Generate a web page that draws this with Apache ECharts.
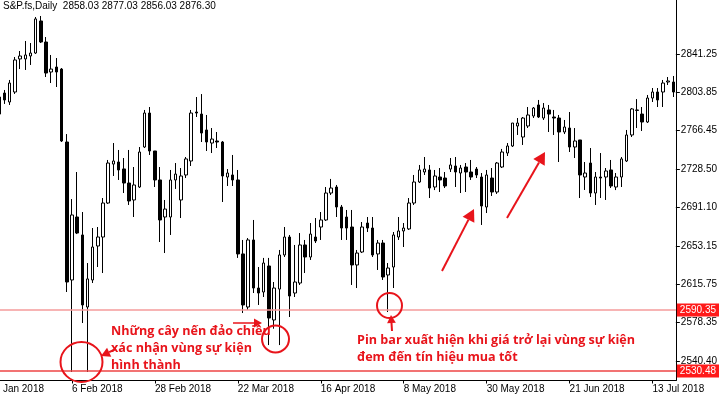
<!DOCTYPE html>
<html><head><meta charset="utf-8">
<script src="https://cdn.jsdelivr.net/npm/echarts@6/dist/echarts.min.js"></script>
<style>html,body{margin:0;padding:0;background:#fff;overflow:hidden;width:720px;height:398px}
#c{position:absolute;left:-14px;top:0;width:734px;height:398px}</style>
</head><body><div id="c"></div>
<script>
// ---- categories (trading days, first two are before the first visible candle) ----
const dates = [
'15 Jan 2018','16 Jan 2018','17 Jan 2018','18 Jan 2018','19 Jan 2018','22 Jan 2018','23 Jan 2018','24 Jan 2018','25 Jan 2018','26 Jan 2018','29 Jan 2018','30 Jan 2018','31 Jan 2018',
'1 Feb 2018','2 Feb 2018','5 Feb 2018','6 Feb 2018','7 Feb 2018','8 Feb 2018','9 Feb 2018','12 Feb 2018','13 Feb 2018','14 Feb 2018','15 Feb 2018','16 Feb 2018','19 Feb 2018','20 Feb 2018','21 Feb 2018','22 Feb 2018','23 Feb 2018','26 Feb 2018','27 Feb 2018','28 Feb 2018',
'1 Mar 2018','2 Mar 2018','5 Mar 2018','6 Mar 2018','7 Mar 2018','8 Mar 2018','9 Mar 2018','12 Mar 2018','13 Mar 2018','14 Mar 2018','15 Mar 2018','16 Mar 2018','19 Mar 2018','20 Mar 2018','21 Mar 2018','22 Mar 2018','23 Mar 2018','26 Mar 2018','27 Mar 2018','28 Mar 2018','29 Mar 2018',
'2 Apr 2018','3 Apr 2018','4 Apr 2018','5 Apr 2018','6 Apr 2018','9 Apr 2018','10 Apr 2018','11 Apr 2018','12 Apr 2018','13 Apr 2018','16 Apr 2018','17 Apr 2018','18 Apr 2018','19 Apr 2018','20 Apr 2018','23 Apr 2018','24 Apr 2018','25 Apr 2018','26 Apr 2018','27 Apr 2018','30 Apr 2018',
'1 May 2018','2 May 2018','3 May 2018','4 May 2018','7 May 2018','8 May 2018','9 May 2018','10 May 2018','11 May 2018','14 May 2018','15 May 2018','16 May 2018','17 May 2018','18 May 2018','21 May 2018','22 May 2018','23 May 2018','24 May 2018','25 May 2018','28 May 2018','29 May 2018','30 May 2018','31 May 2018',
'1 Jun 2018','4 Jun 2018','5 Jun 2018','6 Jun 2018','7 Jun 2018','8 Jun 2018','11 Jun 2018','12 Jun 2018','13 Jun 2018','14 Jun 2018','15 Jun 2018','18 Jun 2018','19 Jun 2018','20 Jun 2018','21 Jun 2018','22 Jun 2018','25 Jun 2018','26 Jun 2018','27 Jun 2018','28 Jun 2018','29 Jun 2018',
'2 Jul 2018','3 Jul 2018','4 Jul 2018','5 Jul 2018','6 Jul 2018','9 Jul 2018','10 Jul 2018','11 Jul 2018','12 Jul 2018','13 Jul 2018','16 Jul 2018','17 Jul 2018','18 Jul 2018','19 Jul 2018'];
const leadIn = 2; // dates before the first drawn candle

// ---- candle values (from 17 Jan 2018) ----
const open = [2782.4,2803.0,2794.2,2804.0,2836.4,2836.4,2839.3,2842.2,2873.6,2853.0,
2823.6,2828.5,2826.5,2755.0,2619.8,2681.5,2663.9,2593.3,2619.8,2653.1,
2661.9,2695.2,2733.4,2735.4,2728.6,2714.8,2698.2,2710.9,2750.1,2783.4,
2746.2,2717.8,2681.5,2681.5,2717.8,2698.2,2722.7,2736.4,2784.4,2782.4,
2766.8,2754.0,2756.0,2755.0,2720.7,2722.7,2717.8,2645.3,2593.3,2659.0,
2611.9,2608.0,2633.5,2580.6,2610.9,2644.3,2661.9,2607.0,2616.8,2654.1,
2642.3,2661.9,2671.7,2678.6,2705.0,2710.9,2691.3,2681.5,2671.7,2634.5,
2647.2,2675.6,2670.7,2645.3,2656.0,2624.7,2632.5,2661.9,2667.8,2669.8,
2695.2,2715.8,2725.6,2727.6,2710.9,2720.7,2719.7,2728.5,2731.5,2724.6,
2730.5,2725.6,2728.5,2720.7,2691.3,2719.7,2706.0,2730.5,2744.2,2751.1,
2770.7,2759.9,2770.7,2780.5,2791.3,2778.5,2786.4,2779.5,2778.5,2764.8,
2768.7,2750.1,2757.0,2720.7,2734.4,2705.0,2720.7,2720.7,2727.6,2710.9,
2720.7,2736.4,2761.9,2786.4,2782.4,2774.6,2798.1,2804.0,2804.0,2813.8,
2813.8];
const close = [2799.1,2796.2,2812.8,2835.4,2839.3,2840.3,2842.2,2875.6,2853.0,2822.6,
2826.5,2823.6,2756.0,2617.8,2683.5,2665.8,2595.3,2620.8,2652.1,2661.9,
2695.2,2734.4,2736.4,2727.6,2714.8,2697.2,2712.9,2745.2,2783.4,2746.2,
2717.8,2678.6,2689.3,2717.8,2723.6,2721.7,2738.4,2783.4,2783.4,2763.8,
2755.0,2757.9,2755.0,2721.7,2724.6,2717.8,2645.3,2595.3,2659.0,2611.9,
2607.0,2636.4,2582.5,2611.9,2644.3,2661.9,2604.1,2617.8,2654.1,2642.3,
2664.8,2658.0,2678.6,2705.0,2709.9,2691.3,2670.7,2670.7,2634.5,2646.2,
2671.7,2670.7,2644.3,2656.0,2622.7,2631.5,2663.9,2667.8,2670.7,2695.2,
2715.8,2727.6,2728.5,2709.9,2721.7,2717.8,2711.9,2732.5,2725.6,2729.5,
2725.6,2720.7,2722.7,2692.3,2722.7,2706.0,2734.4,2745.2,2751.1,2773.6,
2773.6,2778.5,2781.5,2788.3,2779.5,2788.3,2782.4,2778.5,2764.8,2769.7,
2750.1,2756.0,2722.7,2724.6,2705.0,2720.7,2719.7,2726.6,2711.9,2720.7,
2738.4,2761.9,2787.4,2786.0,2774.6,2798.1,2804.0,2796.2,2812.8,2814.8,
2804.0];
const low = [2780.5,2792.3,2791.3,2802.1,2826.5,2825.6,2830.5,2841.3,2852.0,2818.7,
2812.8,2808.9,2755.0,2608.0,2529.6,2664.8,2577.6,2529.6,2616.8,2632.5,
2626.6,2694.3,2721.7,2717.8,2705.0,2693.3,2681.5,2709.9,2749.1,2742.3,
2710.9,2657.0,2646.2,2663.9,2709.0,2680.5,2719.7,2731.5,2779.5,2755.0,
2746.2,2744.2,2749.1,2696.2,2711.9,2711.9,2641.4,2587.4,2590.4,2607.0,
2595.3,2603.1,2556.0,2572.0,2556.0,2642.3,2583.5,2603.1,2614.9,2626.6,
2639.4,2656.0,2659.0,2677.6,2703.1,2681.5,2659.0,2659.0,2614.9,2611.9,
2646.2,2666.8,2642.3,2629.6,2619.8,2588.4,2611.9,2659.0,2652.1,2668.8,
2693.3,2714.8,2722.7,2700.1,2707.9,2706.0,2709.9,2725.6,2710.9,2705.0,
2706.0,2717.8,2719.7,2673.7,2685.4,2702.1,2704.1,2729.5,2741.3,2750.1,
2761.9,2752.1,2768.7,2778.5,2778.5,2776.6,2764.8,2761.9,2735.4,2762.8,
2745.2,2739.3,2700.1,2708.0,2701.1,2693.3,2700.1,2698.2,2709.9,2707.9,
2710.9,2735.4,2759.9,2768.7,2765.8,2773.6,2794.2,2789.3,2789.3,2810.9,
2799.1];
const high = [2801.1,2806.0,2815.8,2838.3,2844.2,2854.0,2852.0,2877.5,2878.5,2857.9,
2840.3,2837.3,2827.5,2762.8,2699.1,2725.6,2686.4,2636.4,2670.7,2671.7,
2700.1,2737.4,2754.0,2747.2,2739.3,2747.2,2730.5,2750.1,2786.4,2789.3,
2746.2,2730.5,2698.2,2727.6,2734.4,2729.5,2740.3,2786.4,2799.1,2802.0,
2781.5,2768.7,2764.8,2756.0,2728.5,2742.3,2727.6,2659.0,2660.9,2678.6,
2632.5,2641.4,2641.4,2617.8,2649.2,2671.7,2663.9,2654.1,2665.8,2659.0,
2675.6,2680.5,2686.4,2710.9,2718.8,2712.9,2693.3,2688.4,2688.4,2649.2,
2676.6,2681.5,2681.5,2659.0,2659.0,2636.4,2666.8,2681.5,2675.6,2700.1,
2722.7,2732.5,2740.3,2732.5,2727.6,2729.5,2725.6,2739.3,2740.3,2732.5,
2734.4,2737.4,2730.5,2724.6,2727.6,2729.5,2735.4,2748.2,2754.0,2773.6,
2778.5,2779.5,2789.3,2789.3,2796.2,2793.2,2791.3,2786.4,2781.5,2776.6,
2784.4,2768.7,2757.0,2735.4,2749.1,2725.6,2744.2,2729.5,2737.4,2724.6,
2740.3,2766.8,2788.3,2797.1,2789.3,2801.1,2807.9,2807.9,2815.8,2818.7,
2819.7];

// ---- axis ticks and levels ----
const priceTicks = [2540.40,2578.35,2615.75,2653.15,2691.10,2728.50,2766.45,2803.85,2841.25];
const eventLevels = [2590.35, 2530.48];
const lastPrice = 2876.30;
const titleText = 'S&P.fs,Daily  2858.03 2877.03 2856.03 2876.30';
const noteLeft = ['Những cây nến đảo chiều', 'xác nhận vùng sự kiện', 'hình thành'];
const noteRight = ['Pin bar xuất hiện khi giá trở lại vùng sự kiện', 'đem đến tín hiệu mua tốt'];

const candles = dates.map((d, i) => i < leadIn ? ['-','-','-','-'] :
  [open[i-leadIn], close[i-leadIn], low[i-leadIn], high[i-leadIn]]);

const OFF = 14; // the chart canvas starts 14px left of the page edge
const RED = '#e8141b';
const chart = echarts.init(document.getElementById('c'), null, {renderer: 'canvas'});
const labelEvery = i => i % 16 === 0;

function arrow(x1, y1, x2, y2, w, head) {
  x1 += OFF; x2 += OFF;
  const a = Math.atan2(y2 - y1, x2 - x1);
  const hl = head, hw = head * 0.55;
  const bx = x2 - hl * Math.cos(a), by = y2 - hl * Math.sin(a);
  const px = -Math.sin(a) * hw, py = Math.cos(a) * hw;
  return [
    {type: 'line', shape: {x1: x1, y1: y1, x2: bx, y2: by}, style: {stroke: RED, lineWidth: w}, z: 100},
    {type: 'polygon', shape: {points: [[x2, y2], [bx + px, by + py], [bx - px, by - py]]}, style: {fill: RED}, z: 100}
  ];
}

const noteFont = 'bold 12.6px "Open Sans"';
const graphics = [].concat(
  [{type: 'ellipse', shape: {cx: 81.5 + OFF, cy: 362, rx: 21, ry: 20}, style: {fill: 'none', stroke: RED, lineWidth: 2}, z: 100},
   {type: 'circle', shape: {cx: 275.5 + OFF, cy: 339, r: 13.5}, style: {fill: 'none', stroke: RED, lineWidth: 2}, z: 100},
   {type: 'circle', shape: {cx: 389.5 + OFF, cy: 305.5, r: 12.5}, style: {fill: 'none', stroke: RED, lineWidth: 2}, z: 100},
   {type: 'text', x: 111 + OFF, y: 323, style: {text: noteLeft.join('\n'), font: noteFont, fill: RED, lineHeight: 17}, z: 101},
   {type: 'text', x: 357 + OFF, y: 332, style: {text: noteRight.join('\n'), font: noteFont, fill: RED, lineHeight: 17}, z: 101}],
  arrow(116, 349, 101, 356, 2, 9),
  arrow(233, 323, 262, 323, 1.5, 8),
  arrow(392, 331, 391, 315, 2, 8),
  arrow(442, 271, 474, 209, 2, 12),
  arrow(507, 218, 545, 152, 2, 12)
);

const lvlLabel = (bg) => ({show: true, position: 'end', distance: 1, formatter: p => Number(p.value).toFixed(2),
  color: '#fff', backgroundColor: bg, padding: [2, 3, 1, 3], fontSize: 10, fontFamily: 'Liberation Sans'});

chart.setOption({
  animation: false,
  backgroundColor: '#fff',
  title: {text: titleText, left: 3 + OFF, top: 1, padding: 0, textStyle: {fontSize: 10, fontWeight: 'normal', color: '#000', fontFamily: 'Liberation Sans'}},
  grid: {left: 0, right: 43.5, top: 0, bottom: 17.5, containLabel: false},
  xAxis: {
    type: 'category', data: dates, boundaryGap: true,
    axisLine: {show: true, lineStyle: {color: '#000', width: 1}},
    axisTick: {show: true, alignWithLabel: true, interval: labelEvery, length: 3, lineStyle: {color: '#000'}},
    axisLabel: {interval: labelEvery, align: 'left', color: '#000', fontSize: 10, fontFamily: 'Liberation Sans', margin: 4},
    splitLine: {show: false}
  },
  yAxis: {
    type: 'value', position: 'right', min: 2521.28, max: 2894.17,
    axisLine: {show: true, lineStyle: {color: '#000', width: 1}},
    axisTick: {show: true, customValues: priceTicks, length: 4, lineStyle: {color: '#000'}},
    axisLabel: {customValues: priceTicks, formatter: v => v.toFixed(2), color: '#000', fontSize: 10, fontFamily: 'Liberation Sans', margin: 5},
    splitLine: {show: false}
  },
  series: [{
    type: 'candlestick', data: candles, barWidth: 3,
    itemStyle: {color: '#fff', color0: '#000', borderColor: '#000', borderColor0: '#000', borderWidth: 1},
    markLine: {
      symbol: 'none', silent: true, animation: false,
      data: [
        {yAxis: eventLevels[0], lineStyle: {color: '#f59b9b', width: 1.5, type: 'solid'}, label: lvlLabel('#ff1a1a')},
        {yAxis: eventLevels[1], lineStyle: {color: '#ee4444', width: 1.5, type: 'solid'}, label: lvlLabel('#ff1a1a')},
        {yAxis: lastPrice, lineStyle: {opacity: 0}, label: lvlLabel('#000')}
      ]
    }
  }],
  graphic: graphics
});
</script>
</body></html>
